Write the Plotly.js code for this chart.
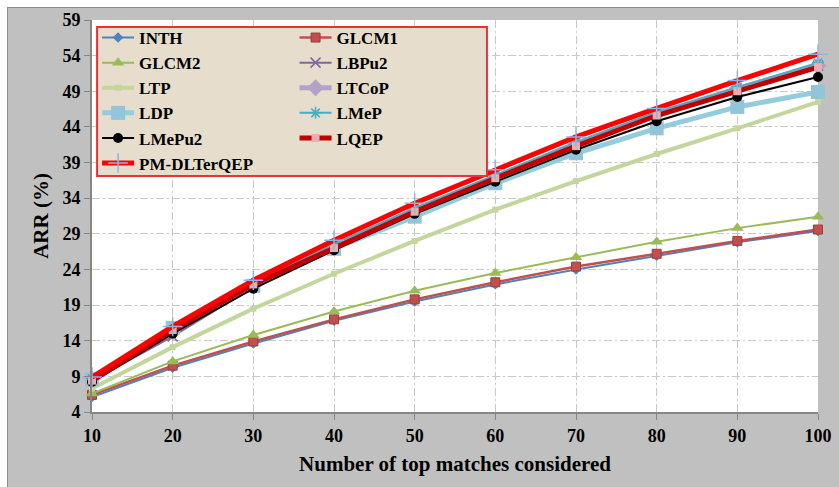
<!DOCTYPE html>
<html>
<head>
<meta charset="utf-8">
<script src="https://cdn.plot.ly/plotly-3.0.1.min.js"></script>
<style>
  html, body { margin: 0; padding: 0; background: #ffffff; }
  #frame { position: absolute; left: 7px; top: 7px; width: 832px; height: 480px;
           border-left: 1px solid #8c8c8c; border-top: 1px solid #8c8c8c; background: #c0c0c0; }
  #chart { width: 831px; height: 479px; }
</style>
</head>
<body>
<div id="frame"><div id="chart"></div></div>
<script>
const topMatches = [10, 20, 30, 40, 50, 60, 70, 80, 90, 100];
const INTH   = [6.1, 10.2, 13.6, 16.8, 19.5, 21.9, 24.0, 25.9, 27.8, 29.4];
const GLCM1  = [6.4, 10.5, 13.9, 17.0, 19.8, 22.2, 24.4, 26.2, 28.0, 29.6];
const GLCM2  = [6.6, 11.1, 14.8, 18.1, 21.0, 23.5, 25.7, 27.9, 29.8, 31.4];
const LBPu2  = [8.4, 14.6, 21.5, 27.1, 32.2, 36.8, 41.4, 45.6, 49.2, 52.6];
const LTP    = [7.3, 13.1, 18.5, 23.4, 28.0, 32.4, 36.4, 40.2, 43.8, 47.5];
const LTCoP  = [8.6, 15.2, 21.8, 27.3, 32.4, 37.0, 41.6, 45.8, 49.4, 52.6];
const LDP    = [8.6, 15.8, 21.7, 26.9, 31.4, 36.1, 40.3, 43.8, 46.8, 48.9];
const LMeP   = [8.7, 15.5, 22.0, 27.6, 32.6, 37.3, 41.9, 46.1, 49.6, 53.0];
const LMePu2 = [8.2, 15.0, 21.3, 26.7, 31.8, 36.3, 40.8, 44.8, 48.2, 51.0];
const LQEP   = [8.4, 15.5, 21.9, 27.0, 32.1, 36.8, 41.3, 45.6, 49.0, 52.4];
const PMDLTerQEP = [8.9, 16.0, 22.5, 28.1, 33.3, 38.0, 42.6, 46.6, 50.5, 54.2];
const yTicks = [4, 9, 14, 19, 24, 29, 34, 39, 44, 49, 54, 59];
const xTicks = [10, 20, 30, 40, 50, 60, 70, 80, 90, 100];

function tr(name, y, lineColor, lineWidth, marker, legendId) {
  return { type: 'scatter', mode: 'lines+markers', name: name, x: topMatches, y: y,
           cliponaxis: false, legend: legendId,
           line: { color: lineColor, width: lineWidth }, marker: marker };
}

const traces = [
  tr('INTH', INTH, '#4F81BD', 2, { symbol: 'diamond', size: 8, color: '#4F81BD' }, 'legend'),
  tr('GLCM1', GLCM1, '#C0504D', 2.5, { symbol: 'square', size: 9, color: '#C0504D', line: { color: '#A03C3A', width: 1 } }, 'legend2'),
  tr('GLCM2', GLCM2, '#9BBB59', 2, { symbol: 'triangle-up', size: 11, color: '#9BBB59' }, 'legend'),
  tr('LBPu2', LBPu2, '#8064A2', 2, { symbol: 'x-thin-open', size: 10, color: '#8064A2', line: { color: '#8064A2', width: 1.5 } }, 'legend2'),
  tr('LTP', LTP, '#C3D69B', 4, { symbol: 'square', size: 6, color: '#C3D69B' }, 'legend'),
  tr('LTCoP', LTCoP, '#B3A2C7', 5, { symbol: 'diamond', size: 13, color: '#B3A2C7' }, 'legend2'),
  tr('LDP', LDP, '#93CDDD', 5, { symbol: 'square', size: 14, color: '#93C5DA' }, 'legend'),
  tr('LMeP', LMeP, '#4BACC6', 2, { symbol: 'asterisk-open', size: 10, color: '#4BACC6', line: { color: '#4BACC6', width: 1.5 } }, 'legend2'),
  tr('LMePu2', LMePu2, '#000000', 2, { symbol: 'circle', size: 10, color: '#000000' }, 'legend'),
  tr('LQEP', LQEP, '#C00000', 5, { symbol: 'square', size: 8, color: '#E6B0B0' }, 'legend2'),
  tr('PM-DLTerQEP', PMDLTerQEP, '#FF0000', 5, { symbol: 'cross-thin-open', size: 14, color: '#8EB4E3', line: { color: '#8EB4E3', width: 1.5 } }, 'legend')
];

const serif = 'Liberation Serif, Times New Roman, serif';
const tickFont = { family: serif, size: 18, color: '#000000', weight: 'bold' };
const legendFont = { family: serif, size: 17, color: '#000000', weight: 'bold' };
const gridDash = '8px,3px,2px,3px';

const layout = {
  width: 831, height: 479,
  margin: { l: 84, r: 21, t: 12, b: 75 },
  paper_bgcolor: '#c0c0c0',
  plot_bgcolor: '#ffffff',
  showlegend: true,
  legend: {
    orientation: 'v', x: 0.007, y: 1.0, xanchor: 'left', yanchor: 'top',
    bgcolor: 'rgba(0,0,0,0)', borderwidth: 0,
    font: legendFont, itemwidth: 32, tracegroupgap: 0
  },
  legend2: {
    orientation: 'v', x: 0.279, y: 1.0, xanchor: 'left', yanchor: 'top',
    bgcolor: 'rgba(0,0,0,0)', borderwidth: 0,
    font: legendFont, itemwidth: 32, tracegroupgap: 0
  },
  shapes: [{
    type: 'rect', layer: 'above', xref: 'paper', yref: 'paper',
    x0: 0.007, x1: 0.544, y0: 0.602, y1: 0.982,
    fillcolor: '#E6DDCC', line: { color: '#F03030', width: 2 }
  }],
  xaxis: {
    range: [10, 100], tickvals: xTicks, ticktext: xTicks.map(String),
    showline: true, linecolor: '#868686', linewidth: 2,
    ticks: 'outside', ticklen: 6, tickcolor: '#868686', tickwidth: 1,
    showgrid: true, gridcolor: '#c8c8c8', gridwidth: 1, griddash: gridDash,
    zeroline: false, tickfont: tickFont,
    title: { text: 'Number of top matches considered', font: { family: serif, size: 21, color: '#000000', weight: 'bold' }, standoff: 12 }
  },
  yaxis: {
    range: [4, 59], tickvals: yTicks, ticktext: yTicks.map(String),
    showline: true, linecolor: '#868686', linewidth: 2,
    ticks: 'outside', ticklen: 6, tickcolor: '#868686', tickwidth: 1,
    showgrid: true, gridcolor: '#c8c8c8', gridwidth: 1, griddash: gridDash,
    zeroline: false, tickfont: tickFont,
    title: { text: 'ARR (%)', font: { family: serif, size: 21, color: '#000000', weight: 'bold' }, standoff: 8 }
  }
};

Plotly.newPlot('chart', traces, layout, { displayModeBar: false, staticPlot: true });
</script>
</body>
</html>
